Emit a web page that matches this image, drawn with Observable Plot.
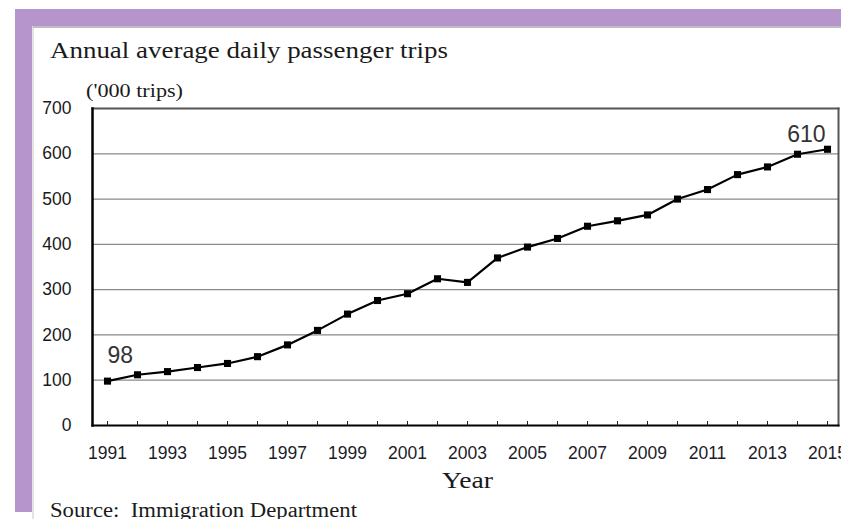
<!DOCTYPE html>
<html>
<head>
<meta charset="utf-8">
<script src="https://cdn.jsdelivr.net/npm/d3@7"></script>
<script src="https://cdn.jsdelivr.net/npm/@observablehq/plot@0.6"></script>
<style>
  html, body { margin: 0; padding: 0; background: #fff; }
  #wrap { position: relative; width: 841px; height: 519px; overflow: hidden; }
  #deco { position: absolute; left: 0; top: 0; }
  #chart { position: absolute; left: 0; top: 0; }
</style>
</head>
<body>
<div id="wrap">
  <svg id="deco" width="841" height="519" xmlns="http://www.w3.org/2000/svg">
    <rect x="15" y="9" width="826" height="17" fill="#b595cc"/>
    <rect x="15" y="9" width="17" height="503" fill="#b595cc"/>
    <line x1="32.5" y1="27" x2="841" y2="27" stroke="#a8a8a8" stroke-width="1.5"/>
    <line x1="33" y1="27" x2="33" y2="519" stroke="#c8c8c8" stroke-width="1"/>
    <text x="50" y="58" font-family="Liberation Serif" font-size="24" fill="#1a1a1a" textLength="398" lengthAdjust="spacingAndGlyphs">Annual average daily passenger trips</text>
    <text x="86" y="97" font-family="Liberation Serif" font-size="19" fill="#1a1a1a" textLength="97" lengthAdjust="spacingAndGlyphs">('000 trips)</text>
    <text x="442" y="488" font-family="Liberation Serif" font-size="23" fill="#1a1a1a" textLength="51" lengthAdjust="spacingAndGlyphs">Year</text>
    <text x="50" y="517" font-family="Liberation Serif" font-size="20" fill="#1a1a1a" xml:space="preserve" textLength="307" lengthAdjust="spacingAndGlyphs">Source:  Immigration Department</text>
  </svg>
  <div id="chart"></div>
</div>
<script>
const years = [1991,1992,1993,1994,1995,1996,1997,1998,1999,2000,2001,2002,2003,2004,2005,2006,2007,2008,2009,2010,2011,2012,2013,2014,2015];
const trips = [98,112,119,128,137,152,178,210,246,276,291,324,316,370,394,413,440,452,465,500,521,554,571,599,610];
const xTickLabels = [1991,1993,1995,1997,1999,2001,2003,2005,2007,2009,2011,2013,2015];
const yTicks = [0,100,200,300,400,500,600,700];
const annotations = [
  {year: 1991, value: 98, label: "98"},
  {year: 2015, value: 610, label: "610"}
];

const data = years.map((y, i) => ({year: y, value: trips[i]}));

const chart = Plot.plot({
  width: 841,
  height: 519,
  marginLeft: 92,
  marginRight: 3,
  marginTop: 108,
  marginBottom: 94,
  style: {background: "transparent", overflow: "visible"},
  x: {type: "linear", domain: [1991, 2015], insetLeft: 15, insetRight: 11},
  y: {domain: [0, 700]},
  marks: [
    Plot.gridY(yTicks.filter(d => d > 0 && d < 700), {stroke: "#8a8a8a", strokeOpacity: 1, strokeWidth: 1.2}),
    Plot.frame({anchor: "top", stroke: "#555", strokeWidth: 2}),
    Plot.frame({anchor: "right", stroke: "#555", strokeWidth: 2}),
    Plot.frame({anchor: "left", stroke: "#000", strokeWidth: 2.5}),
    Plot.frame({anchor: "bottom", stroke: "#000", strokeWidth: 2}),
    Plot.axisX({ticks: years, tickSize: -4, tickFormat: () => "", stroke: "#222", label: null}),
    Plot.axisX({ticks: xTickLabels, tickSize: 0, tickPadding: 21, tickFormat: d => String(d),
      fontSize: 17.5, fontFamily: "Liberation Sans", fill: "#1c1c2a", label: null}),
    Plot.axisY({ticks: yTicks, tickSize: 0, tickPadding: 21, tickFormat: d => String(d),
      fontSize: 17.5, fontFamily: "Liberation Sans", fill: "#1a1a1a", label: null}),
    Plot.line(data, {x: "year", y: "value", stroke: "#000", strokeWidth: 2.2}),
    Plot.dot(data, {x: "year", y: "value", symbol: "square", r: 4, fill: "#000", stroke: "none"}),
    Plot.text(annotations.filter(d => d.year === 1991), {x: "year", y: "value", text: "label", textAnchor: "start", dy: -25,
      fontSize: 23, fontFamily: "Liberation Sans", fill: "#333"}),
    Plot.text(annotations.filter(d => d.year === 2015), {x: "year", y: "value", text: "label", textAnchor: "end", dx: -2, dy: -15,
      fontSize: 23, fontFamily: "Liberation Sans", fill: "#333"})
  ]
});
document.getElementById("chart").appendChild(chart);
</script>
</body>
</html>
